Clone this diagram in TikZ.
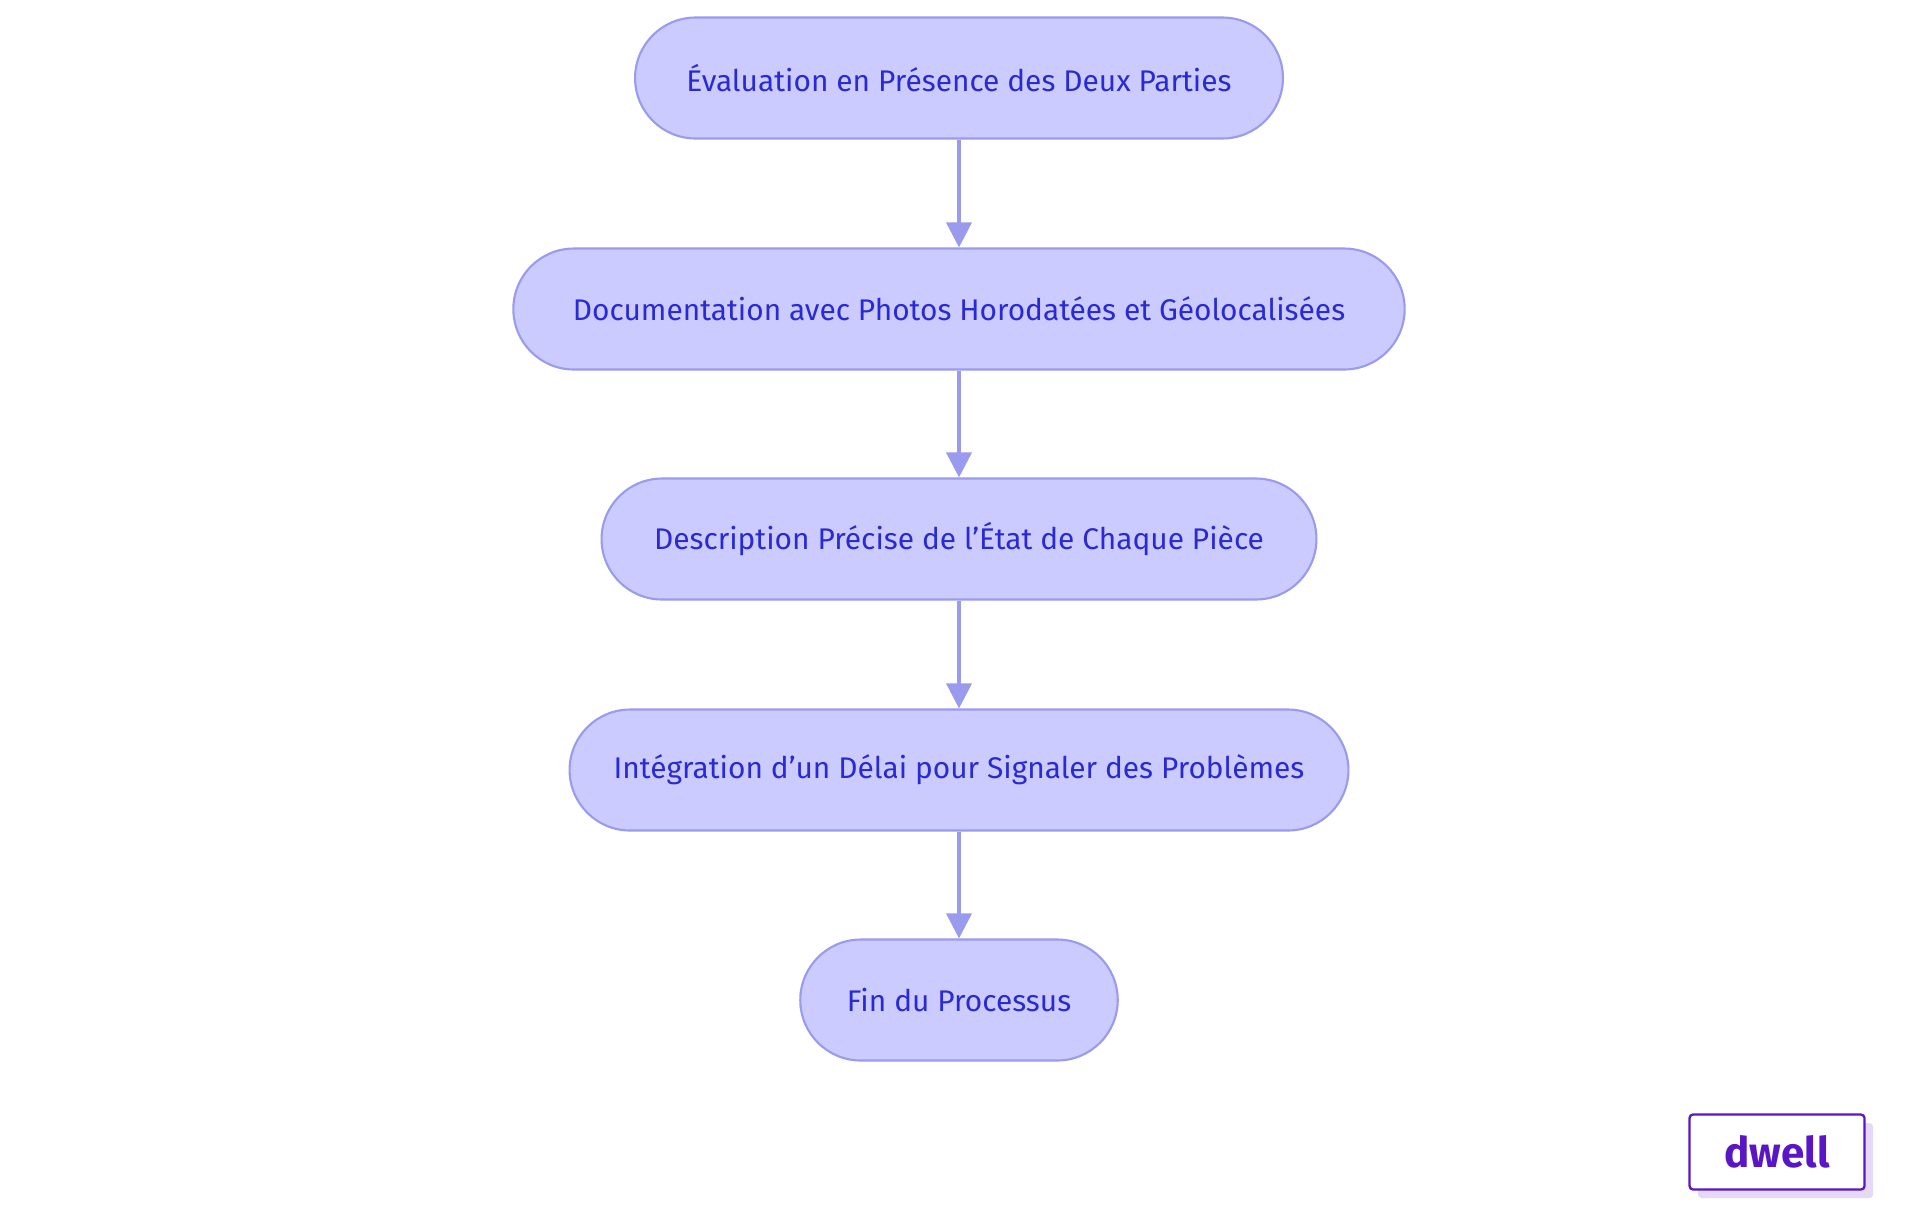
\documentclass[tikz,border=0pt]{standalone}
\usepackage{fontspec}
\setmainfont{Fira Sans}
\usetikzlibrary{arrows.meta}
\definecolor{boxfill}{HTML}{CBCBFF}
\definecolor{boxline}{HTML}{9A9AEE}
\definecolor{boxtext}{HTML}{2A2AD2}
\definecolor{logo}{HTML}{5A16C4}
\definecolor{logoshadow}{HTML}{E6D9F7}
\tikzset{
  stage/.style={draw=boxline, line width=1.2pt, fill=boxfill, text=boxtext, rounded corners=1.21cm, minimum height=2.42cm, font=\fontsize{17}{20}\selectfont},
  flow/.style={draw=boxline, line width=2pt, -{Triangle[length=0.5cm, width=0.5cm]}}
}
\begin{document}
\begin{tikzpicture}[x=0.02cm, y=-0.02cm]
					\useasboundingbox (0,0) rectangle (1920,1215);
					\node[stage, minimum width=12.96cm] (EV)at(959, 78) {Évaluation en Présence des Deux Parties};
					\node[stage, minimum width=17.83cm] (DOC)at(959, 309) {Documentation avec Photos Horodatées et Géolocalisées};
					\node[stage, minimum width=14.3cm] (DESC)at(959, 539) {Description Précise de l'État de Chaque Pièce};
					\node[stage, minimum width=15.58cm] (INT)at(959, 770) {Intégration d'un Délai pour Signaler des Problèmes};
					\node[stage, minimum width=6.35cm] (FIN)at(959, 1000) {Fin du Processus};
					\draw[flow] (EV) -- (DOC);
					\draw[flow] (DOC) -- (DESC);
					\draw[flow] (DESC) -- (INT);
					\draw[flow] (INT) -- (FIN);
					% logo
					\fill[logoshadow, rounded corners=2pt] (1698,1123) rectangle (1873,1198);
					\node[draw=logo, line width=1.3pt, fill=white, rounded corners=2pt, minimum width=3.5cm, minimum height=1.5cm, text=logo, font=\fontsize{24}{28}\selectfont\bfseries] (LOGO)at(1777, 1152) {dwell};
				\end{tikzpicture}
\end{document}
